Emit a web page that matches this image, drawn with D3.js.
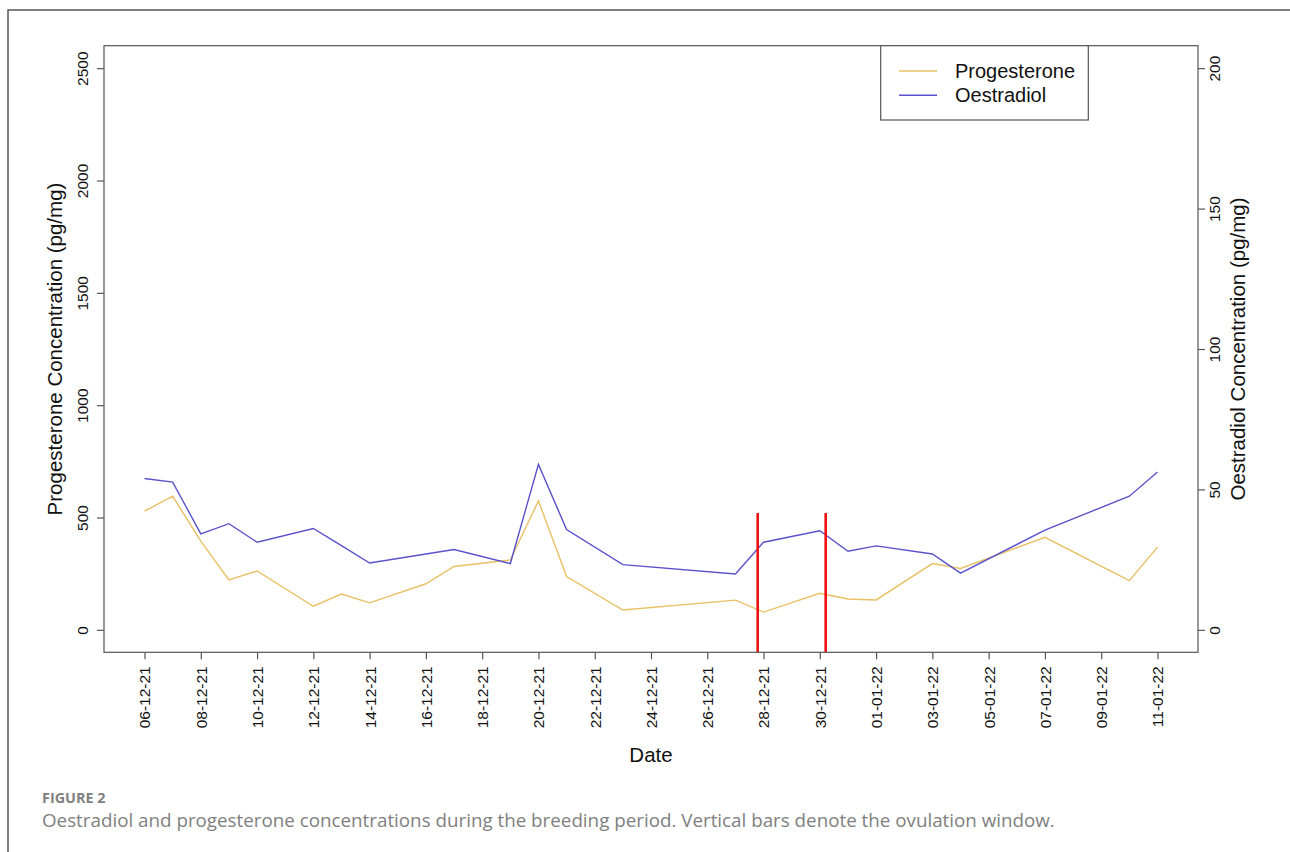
<!DOCTYPE html>
<html>
<head>
<meta charset="utf-8">
<script src="https://cdn.jsdelivr.net/npm/d3@7"></script>
<style>
  html, body { margin: 0; padding: 0; background: #fff; }
  svg { display: block; }
</style>
</head>
<body>
<svg id="chart" width="1290" height="852"></svg>
<script>
// ---- data ----
const dates = ["06-12-21","07-12-21","08-12-21","09-12-21","10-12-21","12-12-21","13-12-21","14-12-21",
  "16-12-21","17-12-21","19-12-21","20-12-21","21-12-21","23-12-21","27-12-21","28-12-21","30-12-21",
  "31-12-21","01-01-22","03-01-22","04-01-22","07-01-22","10-01-22","11-01-22"];
const progesterone = [528, 595, 395, 222, 262, 105, 159, 120, 205, 282, 311, 574, 237, 88, 132, 79, 163,
  137, 133, 295, 273, 412, 219, 368];
const oestradiol = [53.9, 52.6, 34.2, 37.8, 31.2, 36.1, 30.0, 23.8, 27.0, 28.6, 23.6, 58.9, 35.7, 23.2, 19.9,
  31.2, 35.3, 28.0, 29.9, 27.0, 20.2, 35.5, 47.6, 56.2];
const xTickLabels = ["06-12-21","08-12-21","10-12-21","12-12-21","14-12-21","16-12-21","18-12-21","20-12-21",
  "22-12-21","24-12-21","26-12-21","28-12-21","30-12-21","01-01-22","03-01-22","05-01-22","07-01-22",
  "09-01-22","11-01-22"];
const leftTicks = [0, 500, 1000, 1500, 2000, 2500];
const rightTicks = [0, 50, 100, 150, 200];
const ovulationWindow = ["2021-12-27T19:00", "2021-12-30T05:00"];
const ovulationTop = 520;
const seriesNames = ["Progesterone", "Oestradiol"];

// ---- setup ----
const parse = d3.utcParse("%d-%m-%y");
const parseIso = d3.utcParse("%Y-%m-%dT%H:%M");
const svg = d3.select("#chart");
const W = 1290, H = 852;
const pLeft = 104, pRight = 1198, pTop = 45.7, pBottom = 652.3;
const colP = "#E9C064", colE = "#5A52CC";
const axisCol = "#555";
const font = "'Liberation Sans', Arial, sans-serif";

const dts = dates.map(parse);
const ext = d3.extent(dts);
const pad = (ext[1] - ext[0]) * 0.04;
const x = d3.scaleUtc().domain([new Date(+ext[0] - pad), new Date(+ext[1] + pad)]).range([pLeft, pRight]);
const yL = d3.scaleLinear().domain([-100, 2600]).range([pBottom, pTop]);
const yR = d3.scaleLinear().domain([-8, 208]).range([pBottom, pTop]);

// outer figure frame
svg.append("path").attr("d", `M8,${H} L8,10 L${W},10`).attr("fill", "none")
  .attr("stroke", "#555").attr("stroke-width", 1.5);

// lines
const lineP = d3.line().x((d, i) => x(dts[i])).y(d => yL(d));
const lineE = d3.line().x((d, i) => x(dts[i])).y(d => yR(d));
svg.append("path").datum(progesterone).attr("d", lineP).attr("fill", "none")
  .attr("stroke", colP).attr("stroke-width", 1.4);
svg.append("path").datum(oestradiol).attr("d", lineE).attr("fill", "none")
  .attr("stroke", colE).attr("stroke-width", 1.4);

// ovulation window bars
svg.selectAll("line.ov").data(ovulationWindow).join("line").attr("class", "ov")
  .attr("x1", d => x(parseIso(d))).attr("x2", d => x(parseIso(d)))
  .attr("y1", yL(ovulationTop)).attr("y2", yL(-100))
  .attr("stroke", "#EE1111").attr("stroke-width", 2.6);

// plot box
svg.append("rect").attr("x", pLeft).attr("y", pTop).attr("width", pRight - pLeft).attr("height", pBottom - pTop)
  .attr("fill", "none").attr("stroke", axisCol).attr("stroke-width", 1.2);

// bottom axis
const xAxis = d3.axisBottom(x).tickValues(xTickLabels.map(parse)).tickSize(7)
  .tickFormat(d3.utcFormat("%d-%m-%y"));
const gx = svg.append("g").attr("transform", `translate(0,${pBottom})`).call(xAxis)
  .attr("font-family", font).attr("font-size", 15.5);
gx.select(".domain").remove();
gx.selectAll(".tick line").attr("stroke", axisCol).attr("stroke-width", 1.2);
gx.selectAll(".tick text").attr("fill", "#111")
  .attr("transform", "rotate(-90)").attr("text-anchor", "end").attr("x", -14).attr("y", 0).attr("dy", "0.35em");

// left axis
const gl = svg.append("g").attr("transform", `translate(${pLeft},0)`)
  .call(d3.axisLeft(yL).tickValues(leftTicks).tickSize(7).tickFormat(d3.format("d")))
  .attr("font-family", font).attr("font-size", 15.5);
gl.select(".domain").remove();
gl.selectAll(".tick line").attr("stroke", axisCol).attr("stroke-width", 1.2);
gl.selectAll(".tick text").attr("fill", "#111")
  .attr("transform", "rotate(-90)").attr("text-anchor", "middle").attr("x", 0).attr("y", -16).attr("dy", 0);

// right axis
const gr = svg.append("g").attr("transform", `translate(${pRight},0)`)
  .call(d3.axisRight(yR).tickValues(rightTicks).tickSize(7).tickFormat(d3.format("d")))
  .attr("font-family", font).attr("font-size", 15.5);
gr.select(".domain").remove();
gr.selectAll(".tick line").attr("stroke", axisCol).attr("stroke-width", 1.2);
gr.selectAll(".tick text").attr("fill", "#111")
  .attr("transform", "rotate(-90)").attr("text-anchor", "middle").attr("x", 0).attr("y", 22).attr("dy", 0);

// axis titles
const midY = (pTop + pBottom) / 2;
svg.append("text").attr("transform", `translate(62,${midY}) rotate(-90)`).attr("text-anchor", "middle")
  .attr("font-family", font).attr("font-size", 20.5).attr("fill", "#111")
  .text("Progesterone Concentration (pg/mg)");
svg.append("text").attr("transform", `translate(1245,${midY}) rotate(-90)`).attr("text-anchor", "middle")
  .attr("font-family", font).attr("font-size", 20.5).attr("fill", "#111")
  .text("Oestradiol Concentration (pg/mg)");
svg.append("text").attr("x", (pLeft + pRight) / 2).attr("y", 762).attr("text-anchor", "middle")
  .attr("font-family", font).attr("font-size", 20.5).attr("fill", "#111").text("Date");

// legend
const lg = svg.append("g");
lg.append("rect").attr("x", 880.7).attr("y", pTop).attr("width", 207.6).attr("height", 120 - pTop)
  .attr("fill", "#fff").attr("stroke", axisCol).attr("stroke-width", 1.2);
const legCols = [colP, colE];
seriesNames.forEach((n, i) => {
  const yy = 71 + i * 24.3;
  lg.append("line").attr("x1", 899).attr("x2", 937).attr("y1", yy).attr("y2", yy)
    .attr("stroke", legCols[i]).attr("stroke-width", 1.4);
  lg.append("text").attr("x", 955).attr("y", yy).attr("dy", "0.35em")
    .attr("font-family", font).attr("font-size", 20).attr("fill", "#111").text(n);
});

// caption
svg.append("text").attr("x", 42).attr("y", 803).attr("font-family", "'Open Sans', sans-serif")
  .attr("font-size", 14.4).attr("font-weight", "bold").attr("fill", "#808080").text("FIGURE 2");
svg.append("text").attr("x", 42).attr("y", 827).attr("font-family", "'Open Sans', sans-serif")
  .attr("font-size", 18.8).attr("fill", "#808080")
  .text("Oestradiol and progesterone concentrations during the breeding period. Vertical bars denote the ovulation window.");
</script>
</body>
</html>
